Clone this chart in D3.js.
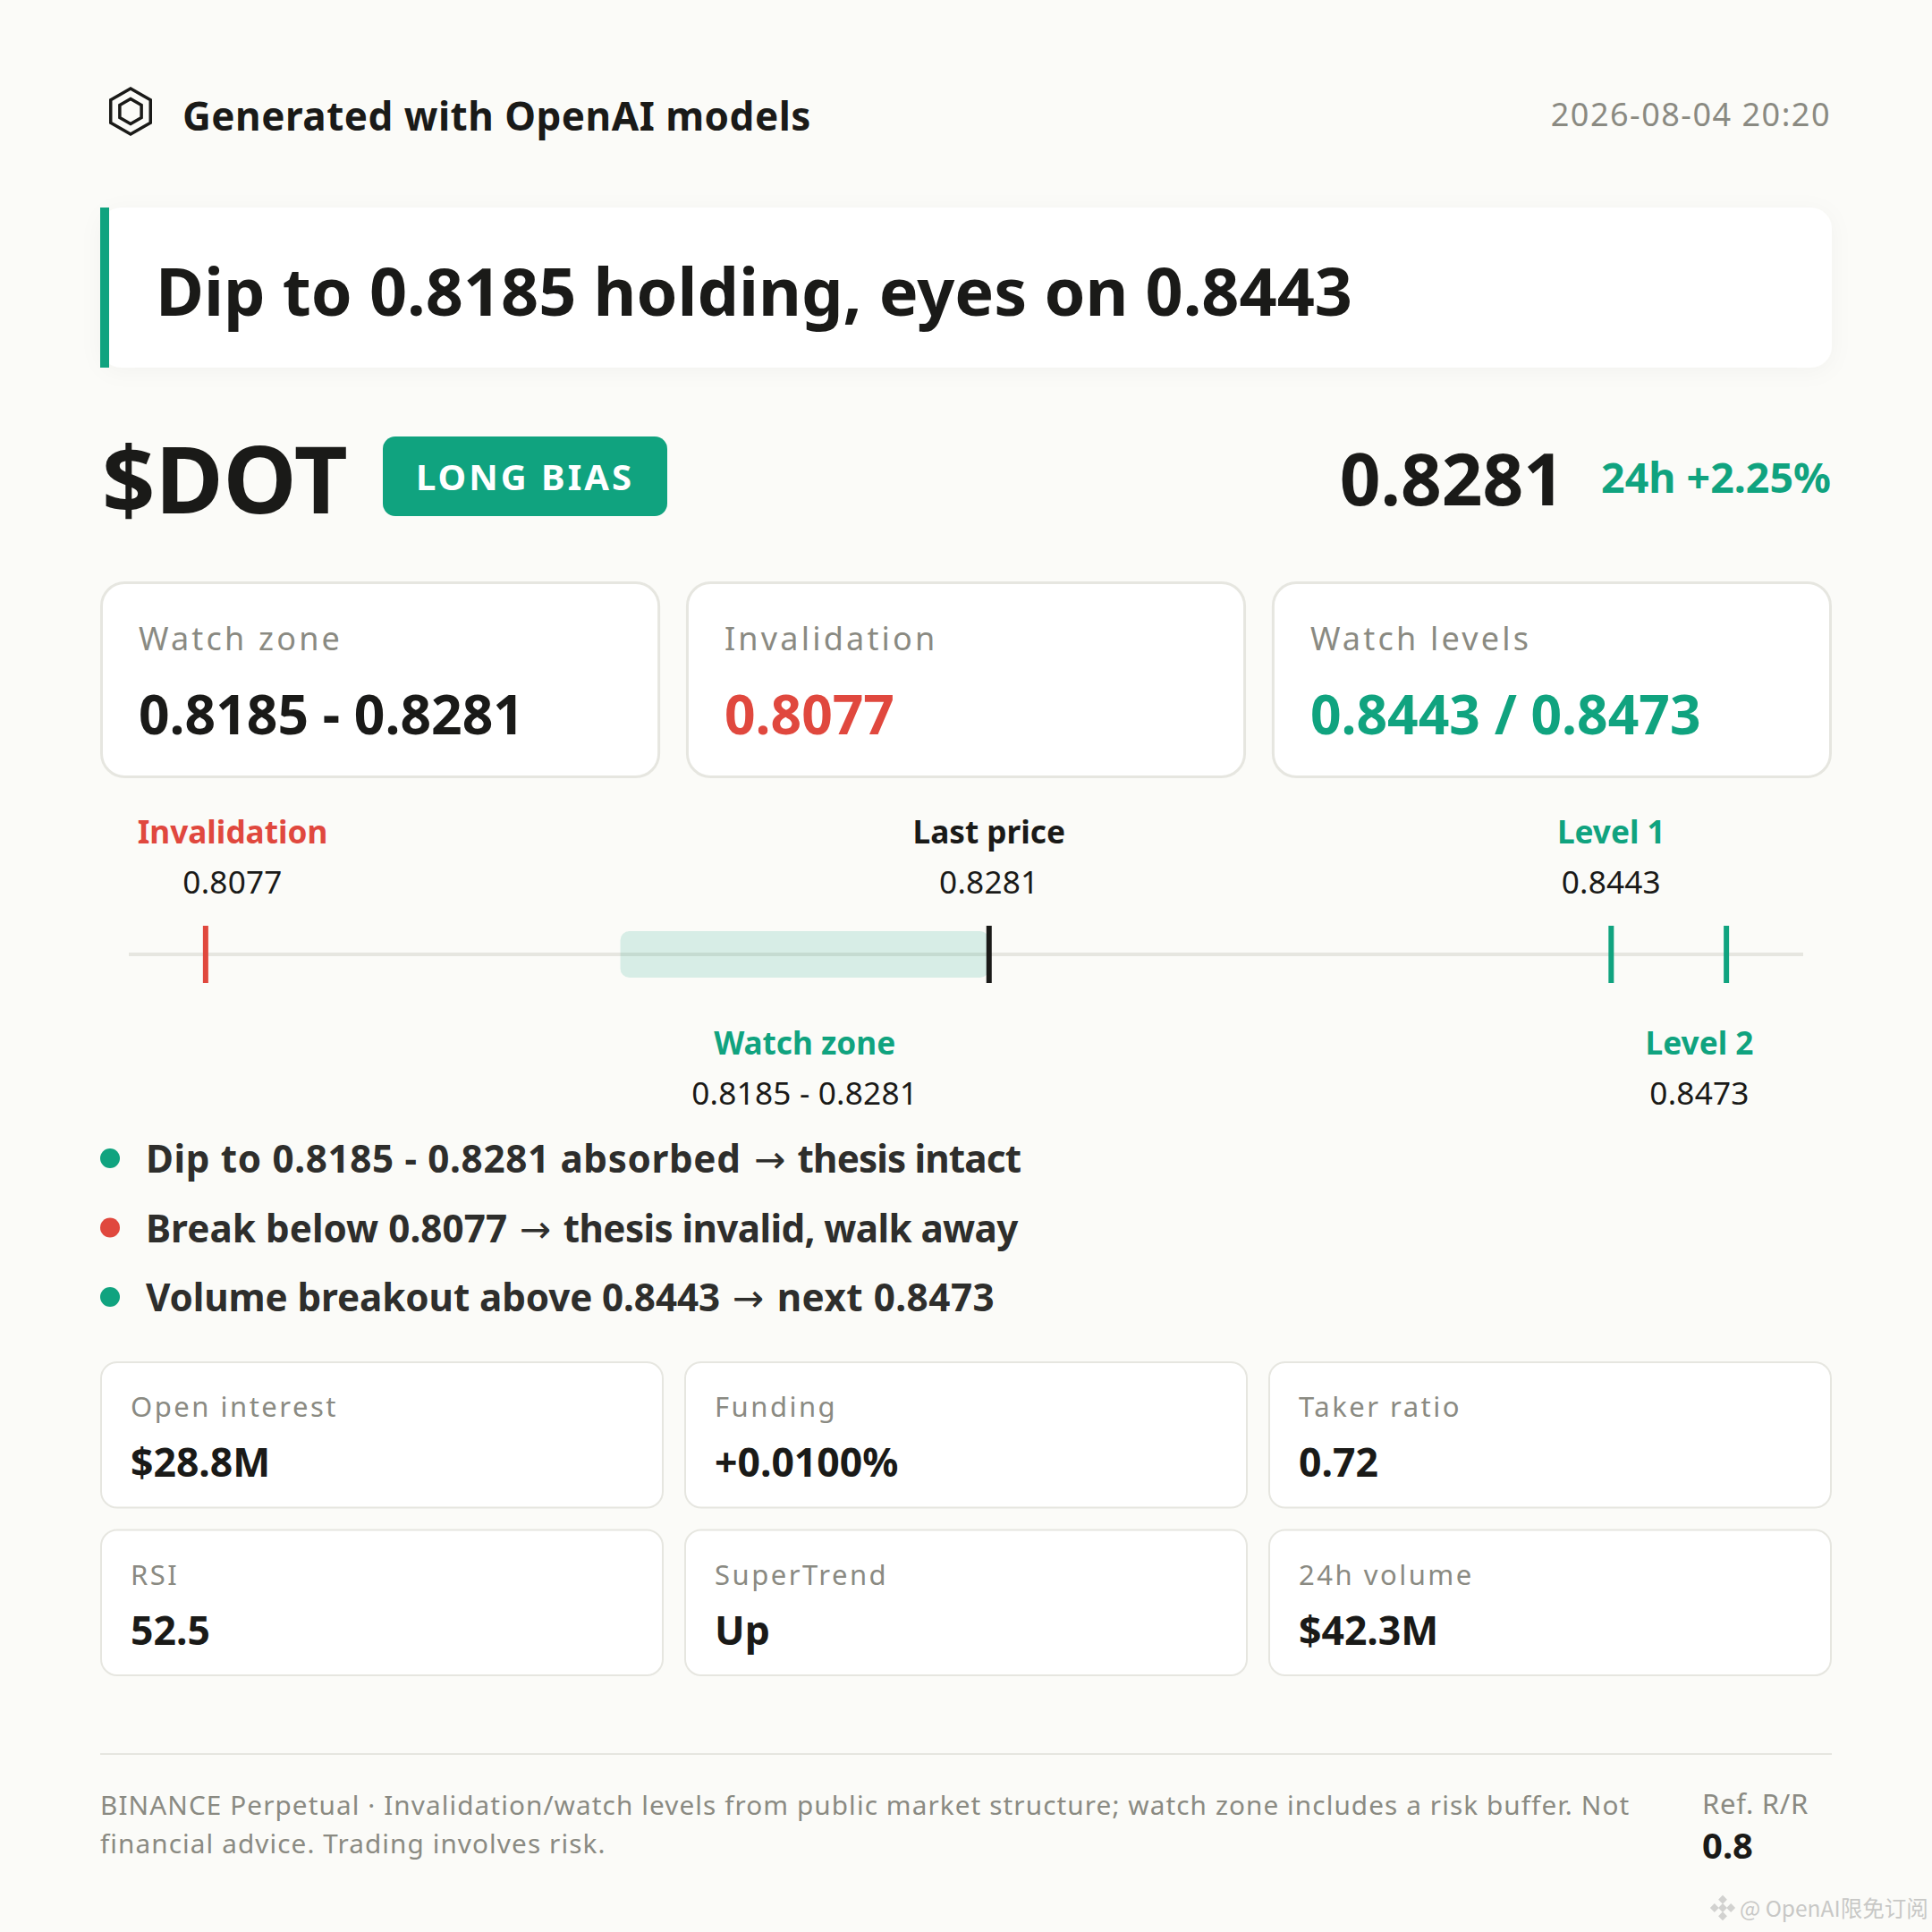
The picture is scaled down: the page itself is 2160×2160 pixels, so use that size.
<!DOCTYPE html>
<html>
<head>
<meta charset="utf-8">
<script src="https://cdn.jsdelivr.net/npm/d3@7"></script>
<style>
  html, body { margin: 0; padding: 0; background: #fbfbf8; }
  svg { display: block; font-family: "Noto Sans", sans-serif; }
</style>
</head>
<body>
<div id="card"></div>
<script>
var brand = "Generated with OpenAI models";
var stamp = "2026-08-04 20:20";
var headline = "Dip to 0.8185 holding, eyes on 0.8443";
var ticker = "$DOT";
var bias = "LONG BIAS";
var lastPrice = 0.8281;
var change = "24h +2.25%";

var summaryLabels = ["Watch zone", "Invalidation", "Watch levels"];
var summaryValues = ["0.8185 - 0.8281", "0.8077", "0.8443 / 0.8473"];
var summaryTones = ["dark", "red", "green"];

var invalidation = 0.8077;
var zone = [0.8185, 0.8281];
var levels = [0.8443, 0.8473];
var priceDomain = [0.8057, 0.8493];

var bulletTexts = [
  "Dip to 0.8185 - 0.8281 absorbed \u2192 thesis intact",
  "Break below 0.8077 \u2192 thesis invalid, walk away",
  "Volume breakout above 0.8443 \u2192 next 0.8473"
];
var bulletTones = ["green", "red", "green"];

var statLabels = ["Open interest", "Funding", "Taker ratio", "RSI", "SuperTrend", "24h volume"];
var statValues = ["$28.8M", "+0.0100%", "0.72", "52.5", "Up", "$42.3M"];

var footLines = [
  "BINANCE Perpetual \u00b7 Invalidation/watch levels from public market structure; watch zone includes a risk buffer. Not",
  "financial advice. Trading involves risk."
];
var rrLabel = "Ref. R/R";
var rrValue = "0.8";
var watermark = "@ OpenAI\u9650\u514d\u8ba2\u9605";

var colors = { dark: "#1a1a18", red: "#e0483e", green: "#10a37f", gray: "#8a8a82", line: "#e6e6e0" };

var svg = d3.select("#card").append("svg")
  .attr("width", 2160)
  .attr("height", 2160)
  .attr("viewBox", "0 0 2160 2160");

var filter = svg.append("defs").append("filter")
  .attr("id", "soft")
  .attr("x", "-5%").attr("y", "-20%")
  .attr("width", "110%").attr("height", "140%");
filter.append("feDropShadow")
  .attr("dx", 0).attr("dy", 4)
  .attr("stdDeviation", 12)
  .attr("flood-color", "#000")
  .attr("flood-opacity", 0.035);

svg.append("rect").attr("width", 2160).attr("height", 2160).attr("fill", "#fbfbf8");

function text(g, x, y, str, size, weight, fill, anchor, spacing) {
  return g.append("text")
    .attr("x", x)
    .attr("y", y)
    .attr("font-size", size)
    .attr("font-weight", weight)
    .attr("fill", fill)
    .attr("text-anchor", anchor || "start")
    .attr("letter-spacing", spacing || 0)
    .text(str);
}

// header
var hex = d3.lineRadial()
  .angle(function(d) { return d * Math.PI / 3; })
  .radius(function() { return 1; })
  .curve(d3.curveLinearClosed);
[[25.7, 25.5], [14, 14]].forEach(function(r) {
  svg.append("path")
    .attr("transform", "translate(146,124.5) scale(" + r[0] + "," + r[1] + ")")
    .attr("d", hex(d3.range(6)))
    .attr("fill", "none")
    .attr("stroke", colors.dark)
    .attr("stroke-width", 3.5)
    .attr("vector-effect", "non-scaling-stroke");
});
text(svg, 204, 146, brand, 44, 700, colors.dark, "start", 0.5);
text(svg, 2047, 141, stamp, 36, 400, colors.gray, "end", 1.5);

// headline
svg.append("rect")
  .attr("x", 112).attr("y", 232).attr("width", 1936).attr("height", 179)
  .attr("rx", 24)
  .attr("fill", "#fff")
  .attr("filter", "url(#soft)");
svg.append("rect").attr("x", 112).attr("y", 232).attr("width", 10).attr("height", 179).attr("fill", colors.green);
text(svg, 174, 353, headline, 73.7, 700, colors.dark);

// ticker row
text(svg, 114, 574, ticker, 104, 700, colors.dark);
svg.append("rect")
  .attr("x", 428).attr("y", 488).attr("width", 318).attr("height", 89)
  .attr("rx", 14)
  .attr("fill", colors.green);
text(svg, 587, 548, bias, 40, 700, "#fff", "middle", 3);
text(svg, 1749, 565, lastPrice.toFixed(4), 80, 700, colors.dark, "end");
text(svg, 2047, 551, change, 46.5, 700, colors.green, "end");

// summary cards
var summaryX = d3.scaleBand()
  .domain(d3.range(summaryLabels.length))
  .range([112, 2048])
  .paddingInner(0.044);
summaryLabels.forEach(function(label, i) {
  var g = svg.append("g").attr("transform", "translate(" + summaryX(i) + ",650)");
  g.append("rect")
    .attr("x", 1.5).attr("y", 1.5)
    .attr("width", summaryX.bandwidth() - 3).attr("height", 217)
    .attr("rx", 26)
    .attr("fill", "#fff")
    .attr("stroke", colors.line)
    .attr("stroke-width", 3);
  text(g, 43, 77, label, 36, 400, colors.gray, "start", 3.2);
  text(g, 43, 171, summaryValues[i], 60.5, 700, colors[summaryTones[i]]);
});

// price track
var x = d3.scaleLinear().domain(priceDomain).range([144, 2016]);
var labelX = function(p) { return Math.max(260, Math.min(1900, x(p))); };

svg.append("rect")
  .attr("x", x.range()[0]).attr("y", 1065)
  .attr("width", x.range()[1] - x.range()[0]).attr("height", 4)
  .attr("fill", colors.line);
svg.append("rect")
  .attr("x", x(zone[0])).attr("y", 1041)
  .attr("width", x(zone[1]) - x(zone[0])).attr("height", 52)
  .attr("rx", 10)
  .attr("fill", colors.green)
  .attr("fill-opacity", 0.15);

var markers = [
  { price: invalidation, color: colors.red },
  { price: lastPrice, color: colors.dark },
  { price: levels[0], color: colors.green },
  { price: levels[1], color: colors.green }
];
svg.selectAll("rect.marker")
  .data(markers)
  .enter()
  .append("rect")
  .attr("class", "marker")
  .attr("x", function(d) { return x(d.price) - 3; })
  .attr("y", 1035)
  .attr("width", 6)
  .attr("height", 64)
  .attr("fill", function(d) { return d.color; });

var trackLabels = [
  { name: "Invalidation", at: invalidation, value: invalidation.toFixed(4), color: colors.red, top: true },
  { name: "Last price", at: lastPrice, value: lastPrice.toFixed(4), color: colors.dark, top: true },
  { name: "Level 1", at: levels[0], value: levels[0].toFixed(4), color: colors.green, top: true },
  { name: "Watch zone", at: (zone[0] + zone[1]) / 2, value: zone[0].toFixed(4) + " - " + zone[1].toFixed(4), color: colors.green, top: false },
  { name: "Level 2", at: levels[1], value: levels[1].toFixed(4), color: colors.green, top: false }
];
trackLabels.forEach(function(d) {
  var y0 = d.top ? 943 : 1179;
  text(svg, labelX(d.at), y0, d.name, 35.2, 700, d.color, "middle");
  text(svg, labelX(d.at), y0 + 56, d.value, 35.2, 400, colors.dark, "middle", 0.2);
});

// bullets
var bulletY = d3.scalePoint().domain(d3.range(bulletTexts.length)).range([1295, 1450]);
// letter spacing before / after the arrow, Noto runs a bit off the reference widths
var bulletFit = [[0.66, -0.85], [0.05, -0.6], [-0.1, 0.5]];
bulletTexts.forEach(function(t, i) {
  svg.append("circle").attr("cx", 123).attr("cy", bulletY(i)).attr("r", 11).attr("fill", colors[bulletTones[i]]);
  var line = text(svg, 163, bulletY(i) + 16, null, 42.2, 700, "#2e2e2c");
  var parts = t.split("\u2192");
  line.append("tspan").attr("letter-spacing", bulletFit[i][0]).text(parts[0]);
  // Noto Sans has no arrow glyph, take it from DejaVu
  line.append("tspan")
    .attr("dx", 3)
    .attr("font-family", "'DejaVu Sans'")
    .attr("font-weight", 400)
    .attr("letter-spacing", 0)
    .text("\u2192");
  line.append("tspan").attr("dx", 3).attr("letter-spacing", bulletFit[i][1]).text(parts[1]);
});

// stat cards
var statX = d3.scaleBand().domain(d3.range(3)).range([112, 2048]).paddingInner(0.0352);
var statY = d3.scaleBand().domain(d3.range(2)).range([1522, 1874]).paddingInner(0.123);
statLabels.forEach(function(label, i) {
  var g = svg.append("g").attr("transform", "translate(" + statX(i % 3) + "," + statY(Math.floor(i / 3)) + ")");
  g.append("rect")
    .attr("x", 1).attr("y", 1)
    .attr("width", statX.bandwidth() - 2).attr("height", statY.bandwidth() - 2)
    .attr("rx", 18)
    .attr("fill", "#fff")
    .attr("stroke", colors.line)
    .attr("stroke-width", 2);
  text(g, 34, 62, label, 31, 400, colors.gray, "start", 2.5);
  text(g, 34, 129, statValues[i], 44.5, 700, colors.dark);
});

// footer
svg.append("rect").attr("x", 112).attr("y", 1960).attr("width", 1936).attr("height", 2).attr("fill", colors.line);
footLines.forEach(function(l, i) {
  text(svg, 112, 2029 + i * 43, l, 29.7, 400, colors.gray, "start", 1.1);
});
text(svg, 1903, 2028, rrLabel, 31, 400, colors.gray, "start", 0.7);
text(svg, 1903, 2078, rrValue, 40, 700, colors.dark);

// watermark
svg.append("g")
  .attr("transform", "translate(1926,2133) rotate(45)")
  .selectAll("path")
  .data([[-6.5, -6.5], [6.5, -6.5], [-6.5, 6.5], [6.5, 6.5], [0, 0]])
  .enter()
  .append("path")
  .attr("transform", function(d) { return "translate(" + d[0] + "," + d[1] + ")"; })
  .attr("d", "M-3.5,-3.5h7v7h-7z")
  .attr("fill", "#d2d2d0");
svg.append("text")
  .attr("x", 1945).attr("y", 2143)
  .attr("font-family", "'Noto Sans CJK SC', 'Noto Sans', sans-serif")
  .attr("font-size", 24.5)
  .attr("fill", "#c8c8c6")
  .text(watermark);
</script>
</body>
</html>
